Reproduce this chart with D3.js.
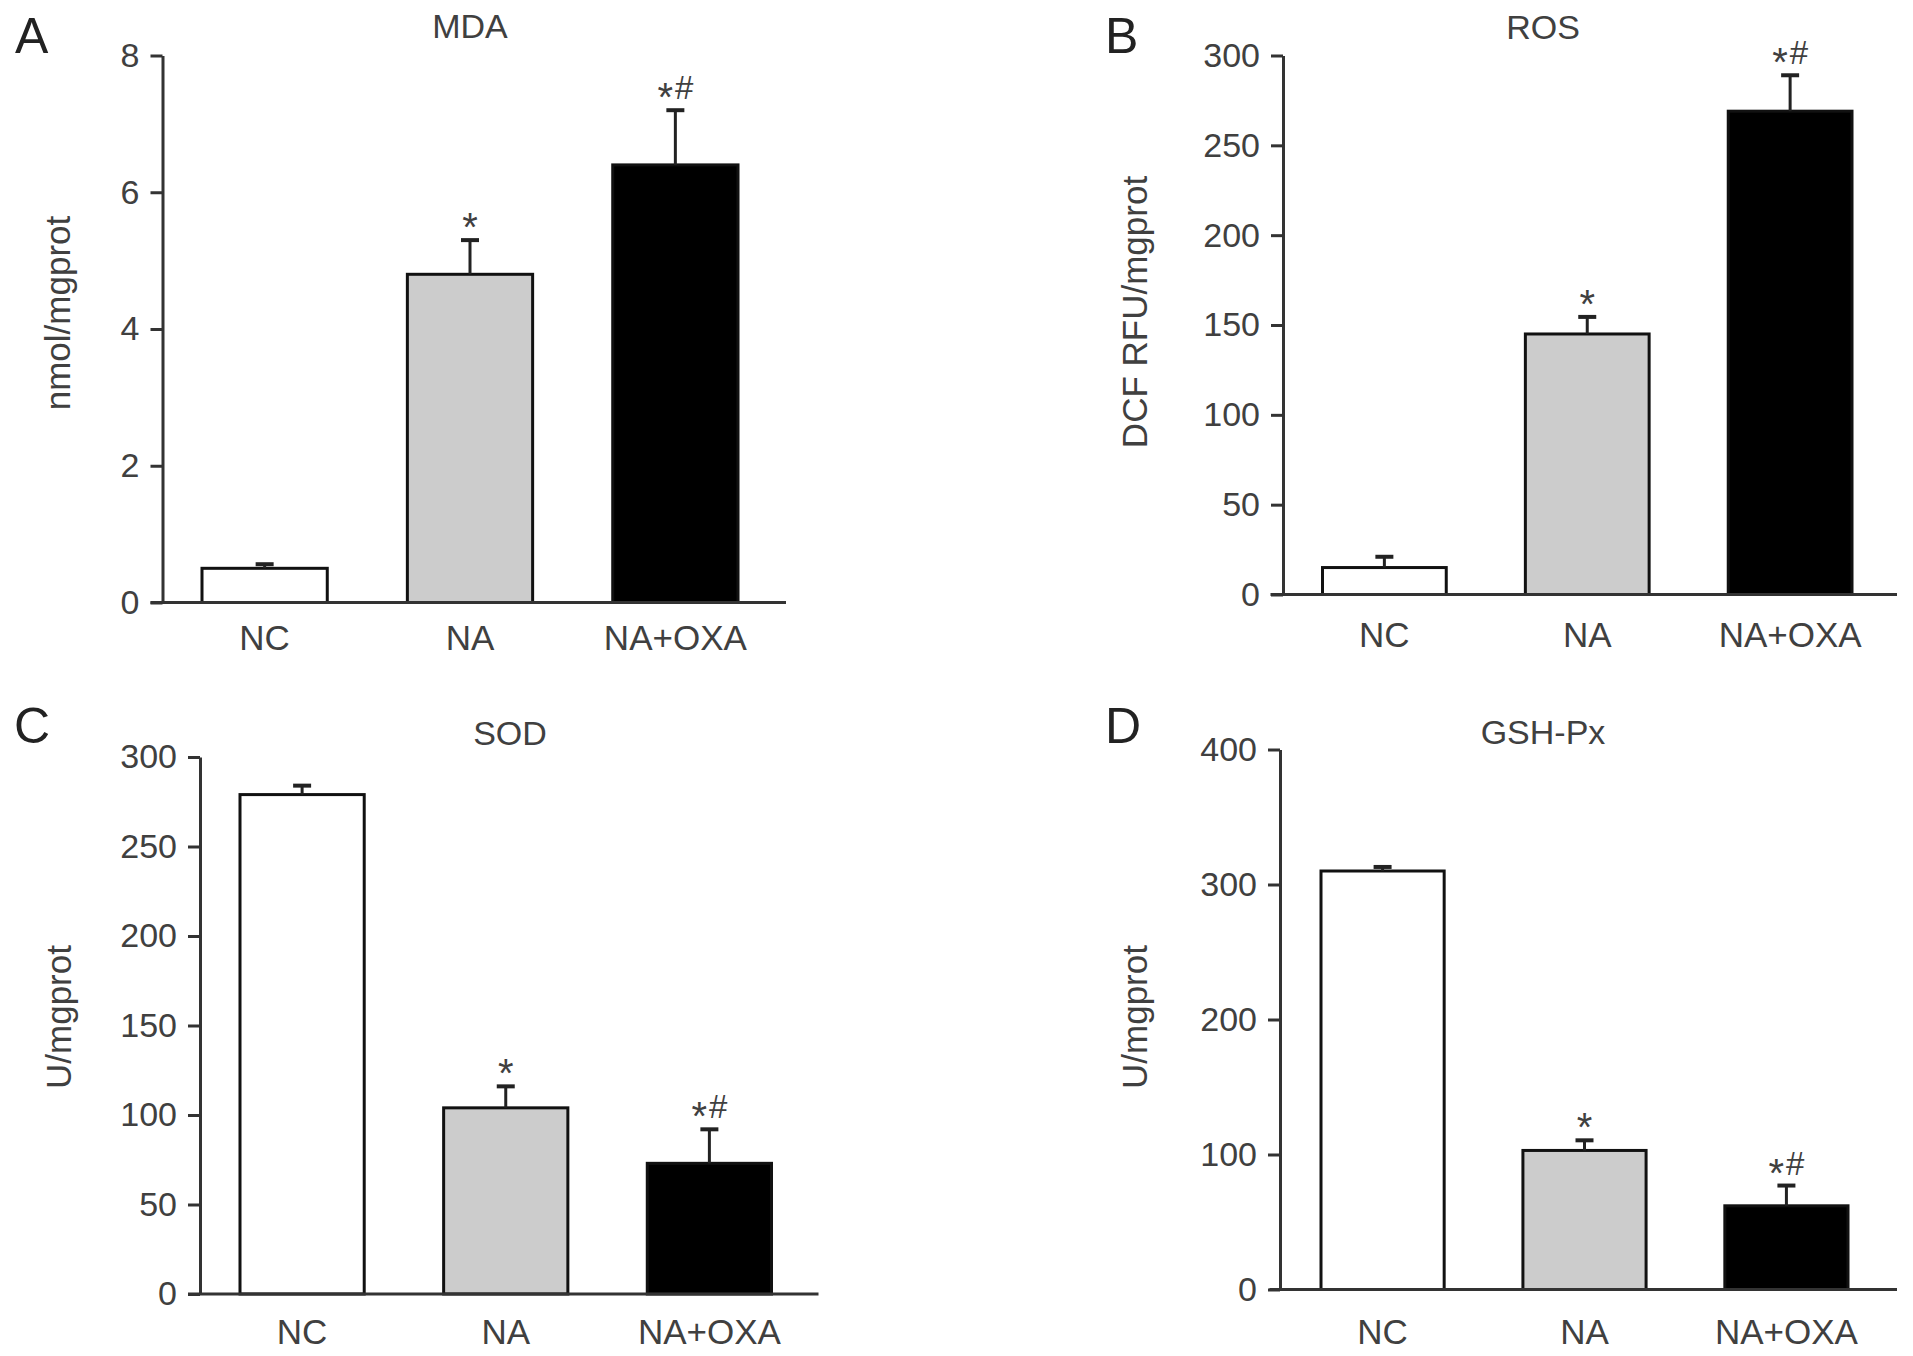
<!DOCTYPE html>
<html>
<head>
<meta charset="utf-8">
<script src="https://cdn.jsdelivr.net/npm/d3@7"></script>
<style>
  body { margin: 0; background: #fff; }
  svg text { font-family: "Liberation Sans", Arial, sans-serif; fill: #404040; }
</style>
</head>
<body>
<div id="chart"></div>
<script>
// groups and values (mean, upper error)
const groups = ["NC", "NA", "NA+OXA"];
const barFills = ["#ffffff", "#cccccc", "#000000"];
const sigMarks = ["", "*", "*#"];

const mdaMeans = [0.5, 4.8, 6.4];
const mdaErr = [0.06, 0.5, 0.8];
const mdaTicks = [0, 2, 4, 6, 8];

const rosMeans = [15, 145, 269];
const rosErr = [6, 9.5, 20];
const rosTicks = [0, 50, 100, 150, 200, 250, 300];

const sodMeans = [279, 104, 73];
const sodErr = [5, 12, 19];
const sodTicks = [0, 50, 100, 150, 200, 250, 300];

const gshMeans = [310, 103, 62];
const gshErr = [3, 7.5, 15];
const gshTicks = [0, 100, 200, 300, 400];

// panel layout (pixels)
const panels = [
    {letter: "A", title: "MDA", yLabel: "nmol/mgprot", means: mdaMeans, err: mdaErr, ticks: mdaTicks,
     axisX: 162.5, yTop: 55.5, y0: 602.5, baseStart: 150.5, baseEnd: 786, barL: 202, barR: 738,
     letterX: 15, letterY: 53, titleX: 470, titleY: 38, yLabX: 70, yLabY: 313, xLabY: 650},
    {letter: "B", title: "ROS", yLabel: "DCF RFU/mgprot", means: rosMeans, err: rosErr, ticks: rosTicks,
     axisX: 1283, yTop: 55.5, y0: 594.5, baseStart: 1270.5, baseEnd: 1897, barL: 1322.5, barR: 1852,
     letterX: 1105, letterY: 53, titleX: 1543, titleY: 39, yLabX: 1147, yLabY: 312, xLabY: 647},
    {letter: "C", title: "SOD", yLabel: "U/mgprot", means: sodMeans, err: sodErr, ticks: sodTicks,
     axisX: 200, yTop: 757, y0: 1294, baseStart: 188, baseEnd: 818.5, barL: 240, barR: 771.5,
     letterX: 14, letterY: 743, titleX: 510, titleY: 745, yLabX: 71, yLabY: 1017, xLabY: 1344},
    {letter: "D", title: "GSH-Px", yLabel: "U/mgprot", means: gshMeans, err: gshErr, ticks: gshTicks,
     axisX: 1280, yTop: 749.5, y0: 1289.5, baseStart: 1269.5, baseEnd: 1897, barL: 1321, barR: 1848,
     letterX: 1105, letterY: 743, titleX: 1543, titleY: 744, yLabX: 1147, yLabY: 1017, xLabY: 1344}
];

const width = 1913, height = 1356;
const svg = d3.select("#chart").append("svg")
    .attr("width", width)
    .attr("height", height);

function drawPanel(p){
    const g = svg.append("g");

    const x = d3.scaleBand()
        .domain(groups)
        .range([p.barL, p.barR])
        .paddingInner(0.39)
        .paddingOuter(0);

    const y = d3.scaleLinear()
        .domain([0, d3.max(p.ticks)])
        .range([p.y0, p.yTop]);

    const rows = groups.map((name, i) => ({name: name, mean: p.means[i], err: p.err[i], fill: barFills[i], mark: sigMarks[i]}));

    // bars
    g.selectAll("rect.bar").data(rows).join("rect")
        .attr("class", "bar")
        .attr("x", d => x(d.name))
        .attr("y", d => y(d.mean))
        .attr("width", x.bandwidth())
        .attr("height", d => y(0) - y(d.mean))
        .attr("fill", d => d.fill)
        .attr("stroke", "#111")
        .attr("stroke-width", 3);

    // upper error bars
    const cx = d => x(d.name) + x.bandwidth() / 2;
    g.selectAll("line.err").data(rows).join("line")
        .attr("class", "err")
        .attr("x1", cx).attr("x2", cx)
        .attr("y1", d => y(d.mean))
        .attr("y2", d => y(d.mean + d.err))
        .attr("stroke", "#222")
        .attr("stroke-width", 3);
    g.selectAll("line.cap").data(rows).join("line")
        .attr("class", "cap")
        .attr("x1", d => cx(d) - 9).attr("x2", d => cx(d) + 9)
        .attr("y1", d => y(d.mean + d.err))
        .attr("y2", d => y(d.mean + d.err))
        .attr("stroke", "#222")
        .attr("stroke-width", 4);

    // significance marks: big asterisk pulled down, hash on the baseline
    const sig = g.selectAll("text.sig").data(rows.filter(d => d.mark)).join("text")
        .attr("class", "sig")
        .attr("x", cx)
        .attr("y", d => y(d.mean + d.err) - 11)
        .attr("text-anchor", "middle");
    sig.append("tspan")
        .attr("font-size", 40)
        .attr("dy", 12)
        .text("*");
    sig.filter(d => d.mark.length > 1).append("tspan")
        .attr("font-size", 33)
        .attr("dx", 2)
        .attr("dy", -12)
        .text(d => d.mark.slice(1));

    // y axis
    const yAxis = d3.axisLeft(y)
        .tickValues(p.ticks)
        .tickSize(12)
        .tickSizeOuter(0)
        .tickPadding(11)
        .tickFormat(d3.format("d"));
    const ax = g.append("g")
        .attr("transform", `translate(${p.axisX},0)`)
        .call(yAxis);
    ax.select(".domain").attr("stroke", "#333").attr("stroke-width", 3);
    ax.selectAll(".tick line").attr("stroke", "#333").attr("stroke-width", 3);
    ax.selectAll(".tick text")
        .attr("font-size", 34)
        .attr("font-family", "'Liberation Sans', Arial, sans-serif")
        .attr("fill", "#404040");

    // baseline
    g.append("line")
        .attr("x1", p.baseStart).attr("x2", p.baseEnd)
        .attr("y1", y(0)).attr("y2", y(0))
        .attr("stroke", "#333")
        .attr("stroke-width", 3);

    // category labels
    g.selectAll("text.cat").data(rows).join("text")
        .attr("class", "cat")
        .attr("x", cx)
        .attr("y", p.xLabY)
        .attr("text-anchor", "middle")
        .attr("font-size", 35)
        .text(d => d.name);

    // y label
    g.append("text")
        .attr("transform", `translate(${p.yLabX},${p.yLabY}) rotate(-90)`)
        .attr("text-anchor", "middle")
        .attr("font-size", 35)
        .text(p.yLabel);

    // title and panel letter
    g.append("text")
        .attr("x", p.titleX).attr("y", p.titleY)
        .attr("text-anchor", "middle")
        .attr("font-size", 34)
        .text(p.title);
    g.append("text")
        .attr("x", p.letterX).attr("y", p.letterY)
        .attr("font-size", 50)
        .style("fill", "#222")
        .text(p.letter);
}

panels.forEach(drawPanel);
</script>
</body>
</html>
